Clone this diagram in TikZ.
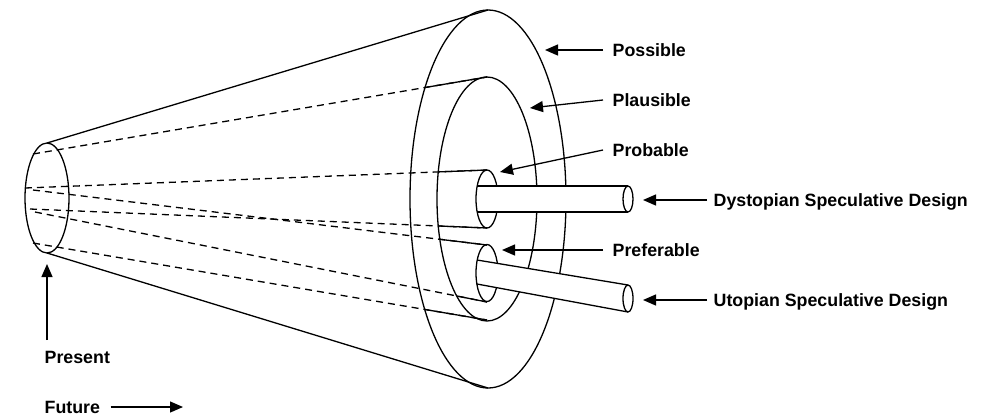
\documentclass[tikz,border=0pt]{standalone}
\usepackage{fontspec}
\setmainfont{Liberation Sans}
\usetikzlibrary{arrows.meta}
\begin{document}
\begin{tikzpicture}[x=1pt,y=-1pt,line width=1.3pt,
  hid/.style={dash pattern=on 7pt off 5pt},
  arr/.style={-{Triangle[length=13pt,width=11pt]}},
  lbl/.style={inner sep=0pt,anchor=west,text height=12.9pt,text depth=0pt,
    font=\fontsize{17.8}{20}\selectfont\bfseries},
  whitefill/.style={fill=white,draw=none}]
\useasboundingbox (0,0) rectangle (990,416);
% key coordinates
\coordinate (presN) at (47,143);
\coordinate (presS) at (47,253);
\coordinate (possN) at (488,10);
\coordinate (possS) at (488,388);
\coordinate (plauN) at (487,77);
\coordinate (plauS) at (487,320);
\coordinate (probN) at (487,170);
\coordinate (probS) at (487,228);
\coordinate (prefN) at (487,245);
\coordinate (prefS) at (487,302);
\coordinate (a1) at (33,154);
\coordinate (a2) at (33,243);
\coordinate (a3) at (25,188);
\coordinate (a4) at (30,209);
\coordinate (a5) at (33,190);
\coordinate (a6) at (35,212);
% cone
\draw (presN) -- (possN);
\draw (presS) -- (possS);
\draw (47,198) ellipse [x radius=22pt,y radius=55pt];
% hidden lines
\draw[hid] (a1) -- (plauN);
\draw[hid] (a2) -- (plauS);
\draw[hid] (a3) -- (probN);
\draw[hid] (a4) -- (probS);
\draw[hid] (a5) -- (prefN);
\draw[hid] (a6) -- (prefS);
% visible parts
\begin{scope}
  \clip (488,199) ellipse [x radius=78pt,y radius=189pt];
  \draw (a1) -- (plauN);
  \draw (a2) -- (plauS);
\end{scope}
\begin{scope}
  \clip (487,199) ellipse [x radius=50pt,y radius=122pt];
  \draw (a3) -- (probN);
  \draw (a4) -- (probS);
  \draw (a5) -- (prefN);
  \draw (a6) -- (prefS);
\end{scope}
% front rings
\draw (488,199) ellipse [x radius=78pt,y radius=189pt];
\draw (487,199) ellipse [x radius=50pt,y radius=122pt];
\draw (487,199) ellipse [x radius=11pt,y radius=29pt];
\draw (487,273) ellipse [x radius=11pt,y radius=28.5pt];
% dystopian tube
\coordinate (dTL) at (477,186);
\coordinate (dTR) at (628,186);
\coordinate (dBL) at (477,212);
\coordinate (dBR) at (628,212);
\fill[white] (479.5,186) rectangle (628,212);
\draw (dTL) -- (dTR);
\draw (dBL) -- (dBR);
\draw[fill=white] (628,199) ellipse [x radius=5pt,y radius=13pt];
% utopian tube
\coordinate (uTL) at (477,260);
\coordinate (uTR) at (628,285);
\coordinate (uBL) at (477,284);
\coordinate (uBR) at (628,312);
\fill[white] (479.5,260.4) -- (uTR) -- (uBR) -- (479.5,284.5) -- cycle;
\draw (uTL) -- (uTR);
\draw (uBL) -- (uBR);
\draw[fill=white] (628,298.5) ellipse [x radius=5pt,y radius=13.5pt];
% labels
\node[lbl] (lposs) at (612,50) {Possible};
\node[lbl] (lplau) at (612,100) {Plausible};
\node[lbl] (lprob) at (612,150) {Probable};
\node[lbl] (ldys) at (713,200) {Dystopian Speculative Design};
\node[lbl] (lpref) at (612,250) {Preferable};
\node[lbl] (luto) at (713,300) {Utopian Speculative Design};
\node[lbl] (lpres) at (44,357) {Present};
\node[lbl] (lfut) at (44,407) {Future};
\coordinate (tposs) at (545,50);
\coordinate (tplau) at (530,108);
\coordinate (tprob) at (500,172);
\coordinate (tdys) at (643,200);
\coordinate (tpref) at (502,250);
\coordinate (tuto) at (643,300);
\coordinate (tpres) at (47,264);
\coordinate (ppres) at (47,340);
\coordinate (tfut) at (183,407);
\draw[arr] ([xshift=-9pt]lposs.west) -- (tposs);
\draw[arr] ([xshift=-9pt]lplau.west) -- (tplau);
\draw[arr] ([xshift=-9pt]lprob.west) -- (tprob);
\draw[arr] ([xshift=-6pt]ldys.west) -- (tdys);
\draw[arr] ([xshift=-9pt]lpref.west) -- (tpref);
\draw[arr] ([xshift=-6pt]luto.west) -- (tuto);
\draw[arr] (ppres) -- (tpres);
\draw[arr] ([xshift=10pt]lfut.east) -- (tfut);
\end{tikzpicture}
\end{document}
